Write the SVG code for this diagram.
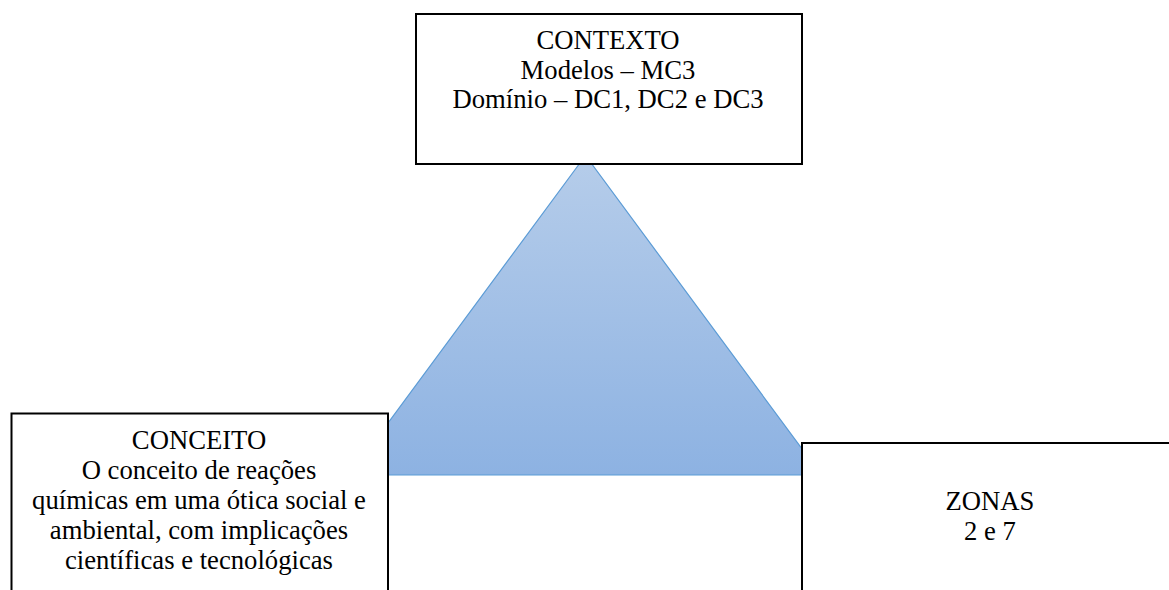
<svg xmlns="http://www.w3.org/2000/svg" width="1169" height="590" viewBox="0 0 1169 590">
<defs>
<linearGradient id="tri" x1="0" y1="0" x2="0" y2="1">
<stop offset="0" stop-color="#b6cdea"/>
<stop offset="1" stop-color="#8db2e2"/>
</linearGradient>
</defs>
<style>
.box{fill:#ffffff;stroke:#000000;stroke-width:2}
.t{font-family:'Times New Roman','Liberation Serif','DejaVu Serif',serif;font-size:26.67px;fill:#000000;text-anchor:middle}
</style>
<rect width="1169" height="590" fill="#ffffff"/>
<g id="connectors">
<polygon points="585.5,155.5 349.7,475 821.3,475" fill="url(#tri)" stroke="#5b9bd5" stroke-width="1.2"/>
</g>
<g id="contexto">
<rect class="box" x="416" y="14" width="386" height="150"/>
<text class="t" x="608" y="49">CONTEXTO</text>
<text class="t" x="608" y="78.7">Modelos – MC3</text>
<text class="t" x="608" y="108.4">Domínio – DC1, DC2 e DC3</text>
</g>
<g id="conceito">
<rect class="box" x="11.5" y="413.5" width="376.5" height="190"/>
<text class="t" x="199" y="449">CONCEITO</text>
<text class="t" x="199" y="479">O conceito de reações</text>
<text class="t" x="199" y="509">químicas em uma ótica social e</text>
<text class="t" x="199" y="539">ambiental, com implicações</text>
<text class="t" x="199" y="569">científicas e tecnológicas</text>
</g>
<g id="zonas">
<rect class="box" x="802" y="443" width="380" height="160"/>
<text class="t" x="990" y="510">ZONAS</text>
<text class="t" x="990" y="540">2 e 7</text>
</g>
</svg>
